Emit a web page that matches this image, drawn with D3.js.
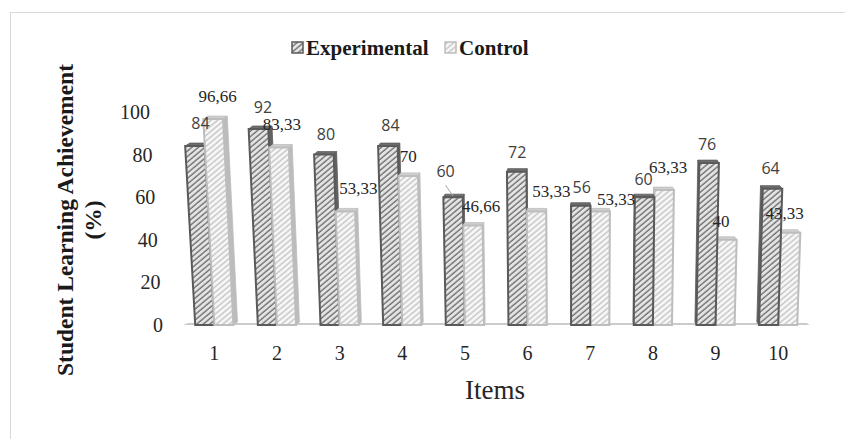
<!DOCTYPE html>
<html>
<head>
<meta charset="utf-8">
<script src="https://cdn.jsdelivr.net/npm/d3@7"></script>
<style>
  html, body { margin: 0; padding: 0; background: #fff; }
  svg { display: block; }
</style>
</head>
<body>
<svg id="chart" width="845" height="439"></svg>
<script>
// ---- data ----
const categories = ["1", "2", "3", "4", "5", "6", "7", "8", "9", "10"];
const seriesNames = ["Experimental", "Control"];
const experimental = [84, 92, 80, 84, 60, 72, 56, 60, 76, 64];
const control = [96.66, 83.33, 53.33, 70, 46.66, 53.33, 53.33, 63.33, 40, 43.33];
const yTicks = [0, 20, 40, 60, 80, 100];

// label nudges (dx, dy) from the top centre of each bar
const expLabelShift = [[5.5,-23],[4.5,-22],[2,-20],[2.5,-21],[-7.5,-26],[0.5,-19],[1,-18],[-1,-18],[-2,-19],[-2,-20]];
const ctlLabelShift = [[4.5,-23],[3,-23],[13,-23],[0,-20],[8,-20],[15,-20],[16,-12],[4,-23],[-6,-19],[-6,-20]];

const svg = d3.select("#chart");
const SERIF = "'Liberation Serif', 'Times New Roman', serif";
const SANS = "'Open Sans', 'Noto Sans', sans-serif";

// ---- scales ----
const baseY = 325;
const y = d3.scaleLinear().domain([0, 100]).range([baseY, 112]);
const x = d3.scaleBand().domain(categories).range([183, 809.5])
  .paddingInner(0.39).paddingOuter(0.195);
const xs = d3.scaleBand().domain(seriesNames).range([0, x.bandwidth()]);

// simple perspective: verticals lean away from a vanishing column
const VX = 575, K = 1.48e-4, DK = 0.012, DZ = 3;
const proj = (x0, v) => {
  const h = baseY - y(v);
  return [x0 + (x0 - VX) * K * h, y(v)];
};
const back = p => [p[0] + (VX - p[0]) * DK, p[1] - DZ];
const poly = pts => "M" + pts.map(p => p[0].toFixed(2) + "," + p[1].toFixed(2)).join("L") + "Z";

// ---- frame ----
svg.append("rect").attr("x", 10.5).attr("y", 12.5).attr("width", 860).attr("height", 460)
  .attr("fill", "none").attr("stroke", "#d9d9d9").attr("stroke-width", 1);

// ---- patterns ----
const defs = svg.append("defs");
function hatch(id, bg, line, w) {
  const p = defs.append("pattern").attr("id", id).attr("patternUnits", "userSpaceOnUse")
    .attr("width", 4.2).attr("height", 4.2).attr("patternTransform", "rotate(-40)");
  p.append("rect").attr("width", 4.2).attr("height", 4.2).attr("fill", bg);
  p.append("line").attr("x1", 0).attr("x2", 4.2).attr("y1", 1).attr("y2", 1)
    .attr("stroke", line).attr("stroke-width", w);
}
hatch("hatchExp", "#e4e4e4", "#707070", 1.4);
hatch("hatchCtl", "#f6f6f6", "#c6c6c6", 1.4);

const style = {
  Experimental: { front: "url(#hatchExp)", edge: "#5a5a5a", side: "#626262", top: "#6e6e6e" },
  Control: { front: "url(#hatchCtl)", edge: "#bdbdbd", side: "#bcbcbc", top: "#cfcfcf" }
};

// ---- floor ----
{
  const [a, b] = x.range();
  const fl = [[a, baseY], [b, baseY], back([b, baseY + 1]), back([a, baseY + 1])];
  svg.append("path").attr("d", poly(fl)).attr("fill", "#cbcbcb");
}

// ---- bars ----
const rows = categories.map((c, i) => ({
  cat: c, i,
  bars: [
    { name: "Experimental", value: experimental[i] },
    { name: "Control", value: control[i] }
  ]
}));

const barLayer = svg.append("g");
const geo = {};
rows.forEach(r => {
  const center = x(r.cat) + x.bandwidth() / 2;
  const leftOfVX = center < VX;
  const order = leftOfVX ? r.bars : r.bars.slice().reverse();
  order.forEach(b => {
    const x0 = x(r.cat) + xs(b.name), x1 = x0 + xs.bandwidth();
    const bl = proj(x0, 0), br = proj(x1, 0), tl = proj(x0, b.value), tr = proj(x1, b.value);
    const st = style[b.name];
    const g = barLayer.append("g");
    // side face
    const side = leftOfVX ? [tr, br, back(br), back(tr)] : [tl, bl, back(bl), back(tl)];
    g.append("path").attr("d", poly(side)).attr("fill", st.side).attr("stroke", st.edge).attr("stroke-width", 0.8);
    // top face
    g.append("path").attr("d", poly([tl, tr, back(tr), back(tl)])).attr("fill", st.top)
      .attr("stroke", st.edge).attr("stroke-width", 0.8);
    // front face
    g.append("path").attr("d", poly([bl, br, tr, tl])).attr("fill", st.front)
      .attr("stroke", st.edge).attr("stroke-width", 2).attr("stroke-linejoin", "miter");
    geo[b.name + r.i] = { cx: (tl[0] + tr[0]) / 2, top: tl[1] };
  });
});

// ---- data labels ----
const fmt = v => String(v).replace(".", ",");
const labelLayer = svg.append("g");
rows.forEach(r => {
  const e = geo["Experimental" + r.i], c = geo["Control" + r.i];
  const es = expLabelShift[r.i], cs = ctlLabelShift[r.i];
  if (r.i === 4) {
    labelLayer.append("line")
      .attr("x1", e.cx + es[0]).attr("y1", e.top + es[1] + 14)
      .attr("x2", e.cx).attr("y2", e.top - 1)
      .attr("stroke", "#a6a6a6").attr("stroke-width", 1);
  }
  labelLayer.append("text").attr("x", e.cx + es[0]).attr("y", e.top + es[1]).attr("dy", "0.35em")
    .attr("text-anchor", "middle").attr("font-family", SANS).attr("font-size", 16)
    .attr("fill", "#404040").text(fmt(r.bars[0].value));
  labelLayer.append("text").attr("x", c.cx + cs[0]).attr("y", c.top + cs[1]).attr("dy", "0.35em")
    .attr("text-anchor", "middle").attr("font-family", SERIF).attr("font-size", 17)
    .attr("fill", "#262626").text(fmt(r.bars[1].value));
});

// ---- y axis (labels follow the perspective lean) ----
const yAxis = svg.append("g").call(d3.axisLeft(y).tickValues(yTicks).tickSize(0).tickPadding(0));
yAxis.select(".domain").remove();
yAxis.selectAll(".tick").attr("transform", d => {
  const p = proj(163, d);
  return `translate(${p[0]},${p[1]})`;
});
yAxis.selectAll("text").attr("x", 0).attr("dy", "0.35em")
  .attr("font-family", SERIF).attr("font-size", 20).attr("fill", "#262626");

// ---- x axis ----
const xAxis = svg.append("g").attr("transform", `translate(0,${baseY})`)
  .call(d3.axisBottom(x).tickSize(0).tickPadding(0));
xAxis.select(".domain").remove();
xAxis.selectAll("text").attr("y", 28).attr("dy", "0.35em")
  .attr("font-family", SERIF).attr("font-size", 20).attr("fill", "#262626");

// ---- axis titles ----
svg.append("text").attr("x", 495).attr("y", 399).attr("text-anchor", "middle")
  .attr("font-family", SERIF).attr("font-size", 27).attr("fill", "#262626").text("Items");

const yTitle = [["Student Learning Achievement", 65], ["(%)", 93]];
yTitle.forEach(([t, cx]) => {
  svg.append("text").attr("transform", `translate(${cx},220) rotate(-90)`)
    .attr("dy", "0.35em").attr("text-anchor", "middle")
    .attr("font-family", SERIF).attr("font-weight", "bold").attr("font-size", 23.5)
    .attr("fill", "#1a1a1a").text(t);
});

// ---- legend ----
const legend = svg.append("g");
const legendItems = [
  { name: "Experimental", x: 292 },
  { name: "Control", x: 445 }
];
legendItems.forEach(li => {
  const st = style[li.name];
  legend.append("rect").attr("x", li.x).attr("y", 42).attr("width", 11).attr("height", 11)
    .attr("fill", st.front).attr("stroke", st.edge).attr("stroke-width", 1.5);
  legend.append("text").attr("x", li.x + 14).attr("y", 47.5).attr("dy", "0.35em")
    .attr("font-family", SERIF).attr("font-weight", "bold").attr("font-size", 21)
    .attr("fill", "#1a1a1a").text(li.name);
});
</script>
</body>
</html>
